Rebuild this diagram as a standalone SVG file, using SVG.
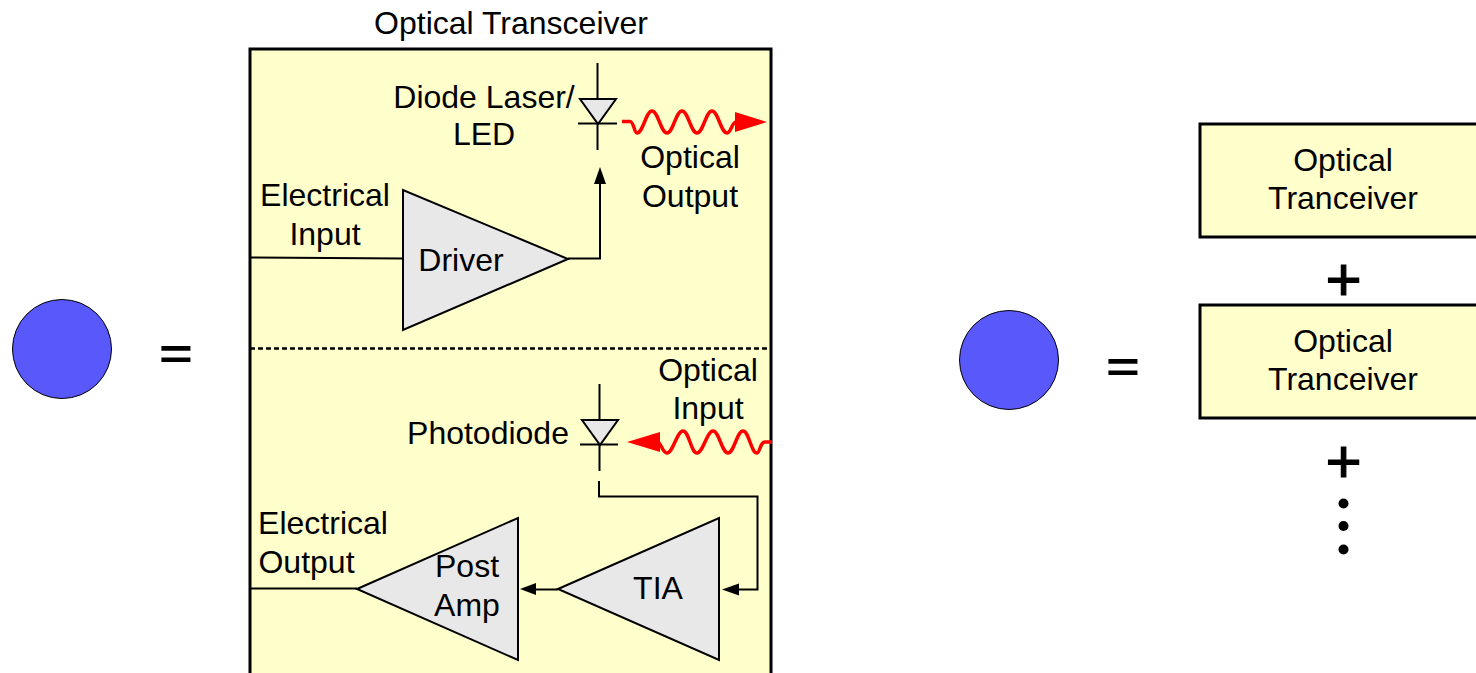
<svg xmlns="http://www.w3.org/2000/svg" width="1476" height="673" viewBox="0 0 1476 673">
<style>
text{font-family:"Liberation Sans",Arial,sans-serif;font-size:32px;fill:#000;text-anchor:middle}
.eq{font-size:58px;font-weight:bold}
.plus{font-size:62px;stroke:#000;stroke-width:1.200px}
.amp{fill:#e8e8e8;stroke:#000;stroke-width:2}
.w{fill:none;stroke:#000;stroke-width:2}
.red{fill:none;stroke:#f00;stroke-width:3.500}
.box{fill:#ffffcc;stroke:#000;stroke-width:3}
.dot{fill:#5858fb;stroke:#000;stroke-width:1}
.diode{fill:#e8e8e8;stroke:#000;stroke-width:2}
</style>
<rect width="1476" height="673" fill="#fff"/>
<g id="transceiver">
<rect class="box" x="250" y="49" width="521" height="640"/>
<text x="511" y="34">Optical Transceiver</text>
<line x1="250" y1="348.500" x2="771" y2="348.500" stroke="#000" stroke-width="2.500" stroke-dasharray="5 3"/>
</g>
<g id="circle-left"><circle class="dot" cx="62" cy="349" r="49.500"/></g>
<g id="eq-left"><text class="eq" transform="translate(176,369) scale(1,.72)">=</text></g>
<g id="circle-right"><circle class="dot" cx="1009" cy="360" r="49.500"/></g>
<g id="eq-right"><text class="eq" transform="translate(1123,382) scale(1,.72)">=</text></g>
<g id="laser">
<polygon class="diode" points="580,99 616,99 598,124"/>
<line class="w" x1="578" y1="123.500" x2="617" y2="123.500"/>
<line class="w" x1="597.500" y1="63" x2="597.500" y2="99"/>
<line class="w" x1="597.500" y1="124" x2="597.500" y2="150"/>
<text x="484" y="108">Diode Laser/</text>
<text x="484" y="145">LED</text>
</g>
<g id="driver">
<polygon class="amp" points="403,190 403,330 568,259"/>
<text x="461" y="271">Driver</text>
</g>
<g id="photodiode">
<polygon class="diode" points="582,420 618,420 600,445"/>
<line class="w" x1="580" y1="444.500" x2="618" y2="444.500"/>
<line class="w" x1="599.500" y1="384" x2="599.500" y2="420"/>
<line class="w" x1="599.500" y1="445" x2="599.500" y2="471"/>
<text x="488" y="444">Photodiode</text>
</g>
<g id="tia">
<polygon class="amp" points="558,589 719,518 719,660"/>
<text x="658" y="599">TIA</text>
</g>
<g id="postamp">
<polygon class="amp" points="357,589 518,518 518,660"/>
<text x="467" y="577">Post</text>
<text x="467" y="616">Amp</text>
</g>
<g id="labels">
<text x="325" y="206">Electrical</text>
<text x="325" y="245">Input</text>
<text x="690" y="168">Optical</text>
<text x="690" y="207">Output</text>
<text x="708" y="381">Optical</text>
<text x="708" y="419">Input</text>
<text x="323" y="534">Electrical</text>
<text x="306.500" y="573">Output</text>
</g>
<g id="connectors">
<path class="w" d="M249 257.500L403 258.500"/>
<path class="w" d="M568 258.500H600V182"/>
<polygon points="600,167 594,184 606,184"/>
<path class="w" d="M599 481V496.500H757.500V589.500H738"/>
<polygon points="722,589.500 739,583.500 739,595.500"/>
<path class="w" d="M558 589.500H536"/>
<polygon points="520,589 536,583 536,595"/>
<path class="w" d="M250 588.500H357"/>
<path class="red" d="M622 121.500H630C634 121.500 634 133 637 133C643 133 646 111 652 111C658 111 661 133 667 133C673 133 676 111 682 111C688 111 691 133 697 133C703 133 706 111 712 111C718 111 721 133 727 133C731 133 732 122 736 122"/>
<polygon points="767,122 735,112 735,132" fill="#f00"/>
<path class="red" d="M772 442H765C760 442 760 453 757 453C751 453 749 431 743 431C737 431 734 453 728 453C722 453 719 431 713 431C707 431 703 453 697 453C691 453 689 431 683 431C677 431 673 453 667 453C663 453 662 446 659 443"/>
<polygon points="627,442 660,432 660,452" fill="#f00"/>
</g>
<g id="tx1">
<rect class="box" x="1200" y="124" width="290" height="113"/>
<text x="1343" y="171">Optical</text>
<text x="1343" y="209">Tranceiver</text>
</g>
<g id="tx2">
<rect class="box" x="1200" y="305" width="290" height="113"/>
<text x="1343" y="352">Optical</text>
<text x="1343" y="390">Tranceiver</text>
</g>
<g id="plus1"><text class="plus" x="1343.500" y="300">+</text></g>
<g id="plus2"><text class="plus" x="1343.500" y="482">+</text></g>
<g id="ellipsis">
<circle cx="1343.500" cy="503.500" r="5"/>
<circle cx="1343.500" cy="526" r="5"/>
<circle cx="1343.500" cy="549.500" r="5"/>
</g>
</svg>
